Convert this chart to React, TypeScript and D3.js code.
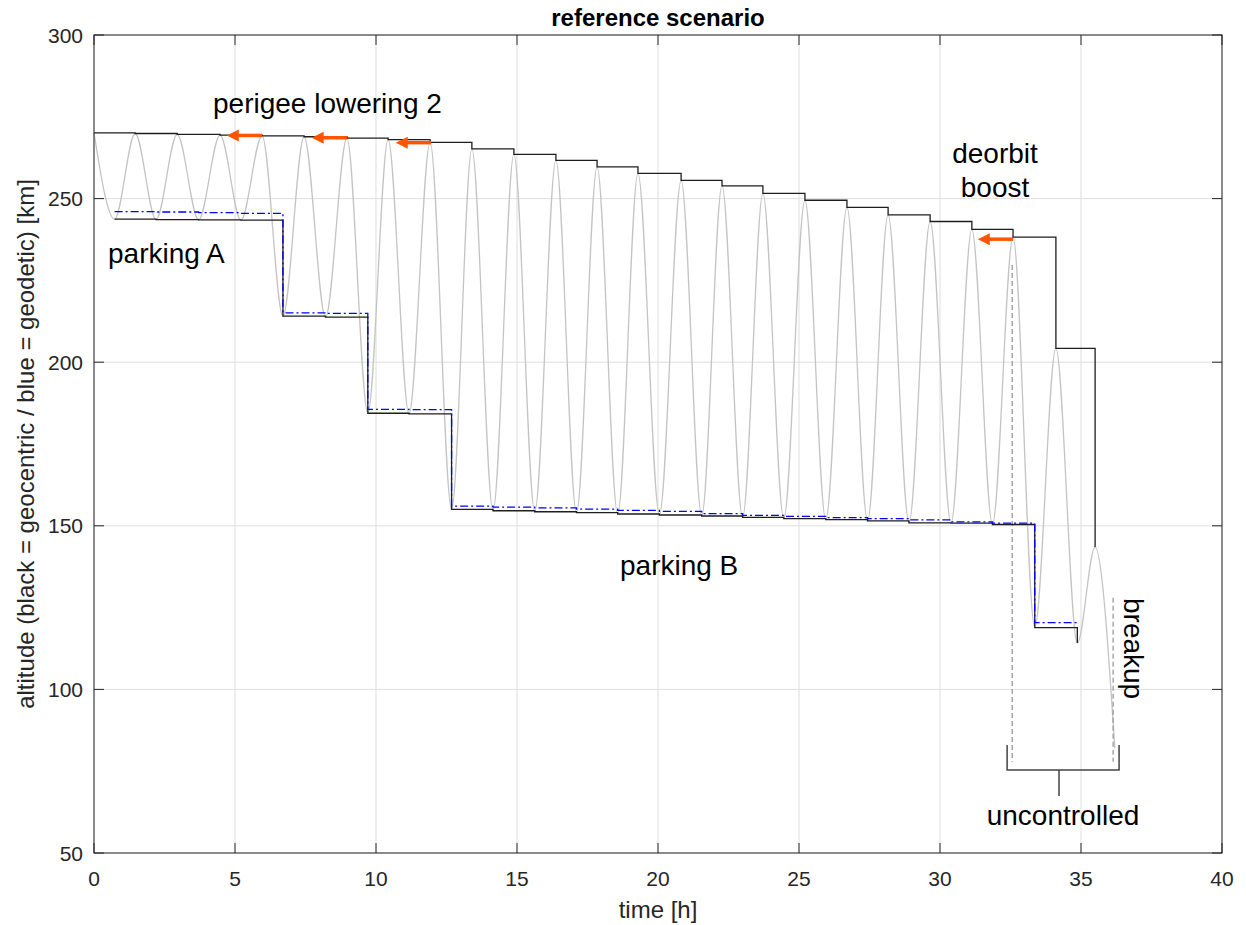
import React from "react";
import * as d3 from "d3";

// ---- data ----
const xTicks = [0, 5, 10, 15, 20, 25, 30, 35, 40];
const yTicks = [50, 100, 150, 200, 250, 300];

// apogee passes (time [h], geocentric apogee altitude [km])
const apogeeTimes = [0, 1.46, 2.95, 4.47, 5.96, 7.45, 8.97, 10.43, 11.92, 13.4, 14.89, 16.38, 17.84, 19.29, 20.82, 22.27, 23.72, 25.21, 26.7, 28.16, 29.65, 31.13, 32.59, 34.11, 35.5];
const apogeeAlt = [270.1, 269.9, 269.6, 269.4, 269.2, 268.9, 268.5, 268.0, 267.2, 265.2, 263.5, 261.7, 259.7, 257.7, 255.6, 253.9, 251.6, 249.5, 247.3, 245.0, 243.0, 240.6, 238.2, 204.2, 143.5];

// perigee passes (time [h], geocentric / geodetic perigee altitude [km])
const perigeeTimes = [0.73, 2.2, 3.71, 5.21, 6.7, 8.21, 9.71, 11.17, 12.68, 14.15, 15.63, 17.11, 18.57, 20.05, 21.55, 23.0, 24.46, 25.95, 27.43, 28.9, 30.39, 31.86, 33.36, 34.87];
const perigeeGeocentric = [243.7, 243.6, 243.5, 243.4, 214.1, 213.8, 184.4, 184.2, 155.0, 154.6, 154.3, 154.0, 153.6, 153.3, 153.0, 152.6, 152.2, 151.9, 151.5, 150.9, 150.8, 150.4, 118.9, 114.2];
const perigeeGeodetic = [246.0, 245.9, 245.7, 245.5, 215.1, 214.9, 185.6, 185.5, 156.0, 155.7, 155.5, 155.1, 154.7, 154.4, 153.7, 153.2, 152.9, 152.5, 152.2, 151.8, 151.2, 150.8, 120.4, 120.4];

// final descent of the altitude trace after the last apogee
const finalTime = 36.2;
const finalAlt = 82;

// manoeuvre arrows (apogee time where burn happens, altitude)
const burnTimes = [5.96, 8.97, 11.95, 32.59];
const burnAlt = [269.3, 268.6, 267.1, 237.6];
const arrowLength = 1.25; // [h]

// dashed markers: start / end of uncontrolled phase
const markerTimes = [32.56, 36.14];
const markerTop = [229.7, 128];
const markerBottom = [77.9, 77.9];

// bracket "uncontrolled"
const bracketT = [32.38, 36.35, 34.22];
const bracketAlt = [75.4, 83.0, 67.4];

const W = 1246;
const H = 925;
const FONT = "'Liberation Sans', Arial, Helvetica, sans-serif";

export default function App() {
  const left = 94, right = 1222, top = 35, bottom = 853;
  const x = d3.scaleLinear().domain([0, 40]).range([left, right]);
  const y = d3.scaleLinear().domain([50, 300]).range([bottom, top]);

  type P = [number, number];
  const step = d3.line<P>().x((d) => x(d[0])).y((d) => y(d[1])).curve(d3.curveStepAfter);
  const smooth = d3.line<P>().x((d) => x(d[0])).y((d) => y(d[1])).curve(d3.curveMonotoneX);

  const apoPts: P[] = apogeeTimes.map((t, i) => [t, apogeeAlt[i]]);
  const periPts: P[] = perigeeTimes.map((t, i) => [t, perigeeGeocentric[i]]);
  const geoPts: P[] = perigeeTimes.map((t, i) => [t, perigeeGeodetic[i]]);

  const trace: P[] = [];
  apogeeTimes.forEach((t, i) => {
    trace.push([t, apogeeAlt[i]]);
    if (i < perigeeTimes.length) trace.push([perigeeTimes[i], perigeeGeocentric[i]]);
  });
  trace.push([finalTime, finalAlt]);

  const tickLen = 10;
  const gridColor = "#dfdfdf";
  const axisColor = "#262626";
  const orange = "#ff5500";

  return (
    <svg width={W} height={H} style={{ position: "absolute", left: 0, top: 0, background: "#fff" }} fontFamily={FONT}>
      <rect x={0} y={0} width={W} height={H} fill="#fff" />
      {/* grid */}
      {xTicks.map((t) => (
        <line key={"gx" + t} x1={x(t)} x2={x(t)} y1={top} y2={bottom} stroke={gridColor} strokeWidth={1} />
      ))}
      {yTicks.map((v) => (
        <line key={"gy" + v} x1={left} x2={right} y1={y(v)} y2={y(v)} stroke={gridColor} strokeWidth={1} />
      ))}

      {/* altitude trace */}
      <path d={smooth(trace) || ""} fill="none" stroke="#c4c4c4" strokeWidth={1.3} />

      {/* dashed markers */}
      {markerTimes.map((t, i) => (
        <line key={"m" + i} x1={x(t)} x2={x(t)} y1={y(markerTop[i])} y2={y(markerBottom[i])} stroke="#9a9a9a" strokeWidth={1.3} strokeDasharray="5,3" />
      ))}

      {/* apogee / perigee step lines */}
      <path d={step(apoPts) || ""} fill="none" stroke="#1e1e1e" strokeWidth={1.3} />
      <path d={step(periPts) || ""} fill="none" stroke="#1e1e1e" strokeWidth={1.3} />
      <path d={step(geoPts) || ""} fill="none" stroke="#0000ff" strokeWidth={1.3} strokeDasharray="8,3,2,3" />

      {/* burn arrows */}
      {burnTimes.map((t, i) => {
        const x0 = x(t);
        const x1 = x(t - arrowLength);
        const yy = y(burnAlt[i]);
        return (
          <g key={"a" + i}>
            <line x1={x0} x2={x1 + 10} y1={yy} y2={yy} stroke={orange} strokeWidth={3.5} />
            <path d={`M${x1},${yy} L${x1 + 12},${yy - 6} L${x1 + 12},${yy + 6} Z`} fill={orange} />
          </g>
        );
      })}

      {/* bracket */}
      <path
        d={`M${x(bracketT[0])},${y(bracketAlt[1])} V${y(bracketAlt[0])} H${x(bracketT[1])} V${y(bracketAlt[1])} M${x(bracketT[2])},${y(bracketAlt[0])} V${y(bracketAlt[2])}`}
        fill="none"
        stroke="#444"
        strokeWidth={1.5}
      />

      {/* annotations */}
      <g fontSize={28} fill="#000">
        <text x={213} y={113}>perigee lowering 2</text>
        <text x={108} y={263}>parking A</text>
        <text x={620} y={575}>parking B</text>
        <text x={995} y={163} textAnchor="middle">deorbit</text>
        <text x={995} y={197} textAnchor="middle">boost</text>
        <text x={1063} y={825} textAnchor="middle">uncontrolled</text>
        <text transform="translate(1124,598) rotate(90)">breakup</text>
      </g>

      {/* axes box and ticks */}
      <rect x={left} y={top} width={right - left} height={bottom - top} fill="none" stroke={axisColor} strokeWidth={1} />
      {xTicks.map((t) => (
        <g key={"tx" + t}>
          <line x1={x(t)} x2={x(t)} y1={bottom} y2={bottom - tickLen} stroke={axisColor} />
          <line x1={x(t)} x2={x(t)} y1={top} y2={top + tickLen} stroke={axisColor} />
          <text x={x(t)} y={bottom + 33} textAnchor="middle" fontSize={21} fill={axisColor}>{t}</text>
        </g>
      ))}
      {yTicks.map((v) => (
        <g key={"ty" + v}>
          <line x1={left} x2={left + tickLen} y1={y(v)} y2={y(v)} stroke={axisColor} />
          <line x1={right} x2={right - tickLen} y1={y(v)} y2={y(v)} stroke={axisColor} />
          <text x={83} y={y(v)} dy="0.36em" textAnchor="end" fontSize={21} fill={axisColor}>{v}</text>
        </g>
      ))}

      {/* labels */}
      <text x={(left + right) / 2} y={26} textAnchor="middle" fontSize={24} fontWeight="bold" fill="#000">reference scenario</text>
      <text x={(left + right) / 2} y={918} textAnchor="middle" fontSize={24} fill={axisColor}>time [h]</text>
      <text transform={`translate(34,${(top + bottom) / 2}) rotate(-90)`} textAnchor="middle" fontSize={24} fill={axisColor}>
        altitude (black = geocentric / blue = geodetic) [km]
      </text>
    </svg>
  );
}
